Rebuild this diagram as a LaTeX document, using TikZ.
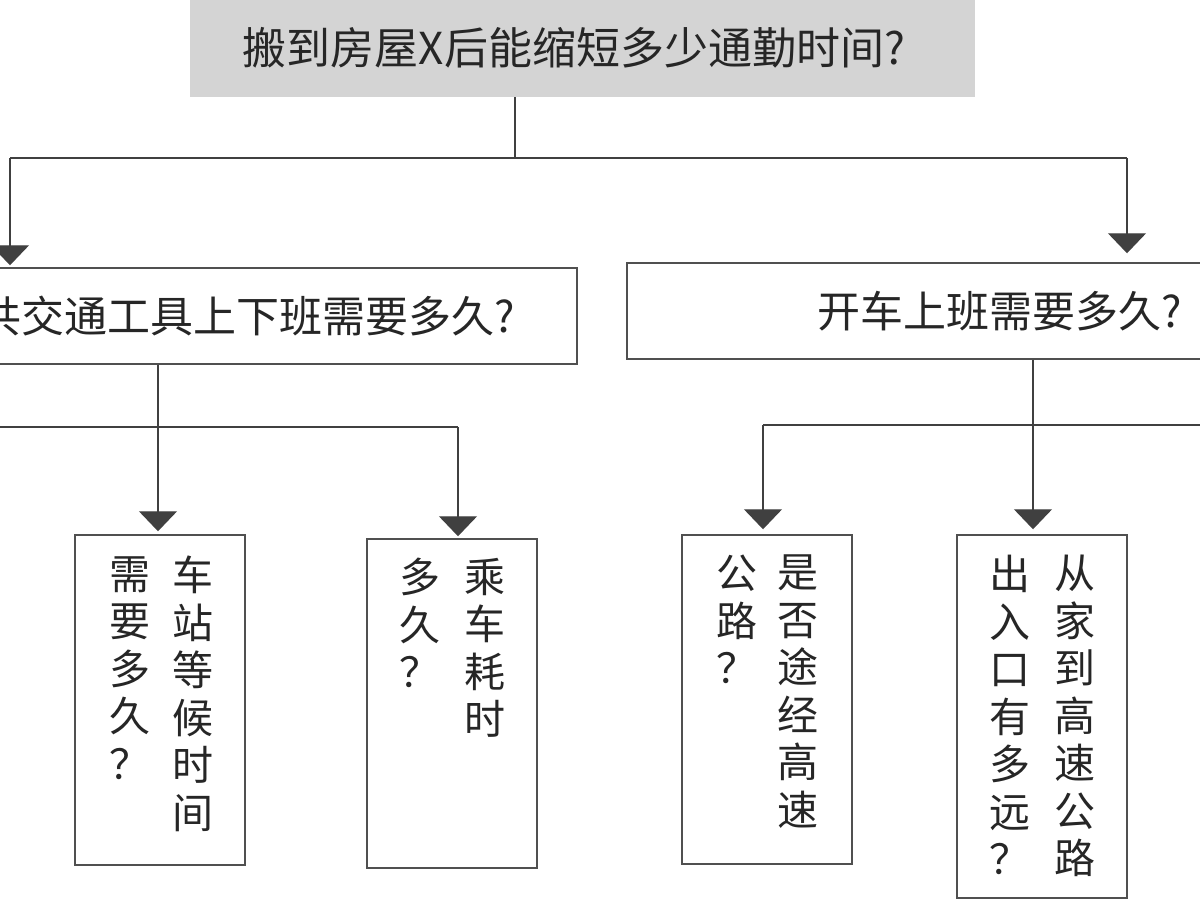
\documentclass[tikz,border=0pt]{standalone}
\usepackage{fontspec}
\newfontfamily\cjk{Noto Sans CJK SC}
\usetikzlibrary{arrows.meta}
\definecolor{linegray}{HTML}{404040}
\definecolor{boxgray}{HTML}{505050}
\definecolor{titlefill}{HTML}{D4D4D4}
\begin{document}
\begin{tikzpicture}[x=1pt,y=-1pt,
  conn/.style={draw=linegray, line width=1.3pt},
  arr/.style={conn, -{Triangle[width=38pt,length=20pt]}, shorten >=3pt},
  titlebox/.style={fill=titlefill, minimum width=785pt, minimum height=97pt, inner sep=0pt},
  titletext/.style={inner sep=0pt, font=\cjk\fontsize{44}{50}\selectfont, text=black!85},
  hbox/.style={draw=boxgray, line width=1.5pt, fill=white, minimum width=746pt, minimum height=96pt,
    inner sep=0pt, font=\cjk\fontsize{43}{50}\selectfont, text=black!85},
  vbox/.style={draw=boxgray, line width=1.5pt, fill=white, minimum width=170pt, inner sep=0pt},
  vcol/.style={anchor=north, inner sep=0pt, align=center, text=black!85,
    font=\cjk\fontsize{41}{47.5}\selectfont}
]
\useasboundingbox (0,0) rectangle (1200,900);
\clip (0,0) rectangle (1200,900);
\fill[white] (0,0) rectangle (1200,900);

% top
\node[titlebox] (T) at (582.5,48.5) {};
\node[titletext] (Tt) at (574,48) {搬到房屋X后能缩短多少通勤时间?};
% second level
\node[hbox] (L) at (204,316) {乘公共交通工具上下班需要多久?};
\node[hbox] (R) at (1000,311) {开车上班需要多久?};
% third level boxes
\node[vbox, minimum height=330pt] (A) at (160,700) {};
\node[vbox, minimum height=329pt] (B) at (452,703.5) {};
\node[vbox, minimum height=329pt] (C) at (767,699.5) {};
\node[vbox, minimum height=363pt] (D) at (1042,716.5) {};

% vertical texts (columns right to left)
\node[vcol] (A1) at (193,556) {车\\站\\等\\候\\时\\间};
\node[vcol] (A2) at (130,556) {需\\要\\多\\久\\？};
\node[vcol] (B1) at (485,558) {乘\\车\\耗\\时};
\node[vcol] (B2) at (420,558) {多\\久\\？};
\node[vcol] (C1) at (798,555) {是\\否\\途\\经\\高\\速};
\node[vcol] (C2) at (737,555) {公\\路\\？};
\node[vcol] (D1) at (1075,555) {从\\家\\到\\高\\速\\公\\路};
\node[vcol] (D2) at (1010,555) {出\\入\\口\\有\\多\\远\\？};

% connectors from top
\coordinate (J) at (515,158);
\coordinate (TL) at (10,158);
\coordinate (TR) at (1127,158);
\draw[conn] (T.south -| J) -- (J);
\draw[conn] (TL) -- (TR);
\draw[arr, shorten >=2pt] (TL) -- (TL |- L.north);
\draw[arr, shorten >=9pt] (TR) -- (TR |- R.north);

% left subtree
\coordinate (LJ) at (158,427);
\coordinate (LW) at (-30,427);
\coordinate (LB) at (458,427);
\draw[conn] (LW) -- (LB);
\draw[arr] (L.south -| LJ) -- (LJ |- A.north);
\draw[arr, shorten >=2pt] (LB) -- (LB |- B.north);

% right subtree
\coordinate (RJ) at (1033,425);
\coordinate (RC) at (763,425);
\coordinate (RE) at (1230,425);
\draw[conn] (RC) -- (RE);
\draw[arr, shorten >=5pt] (R.south -| RJ) -- (RJ |- D.north);
\draw[arr, shorten >=5pt] (RC) -- (RC |- C.north);
\end{tikzpicture}
\end{document}
